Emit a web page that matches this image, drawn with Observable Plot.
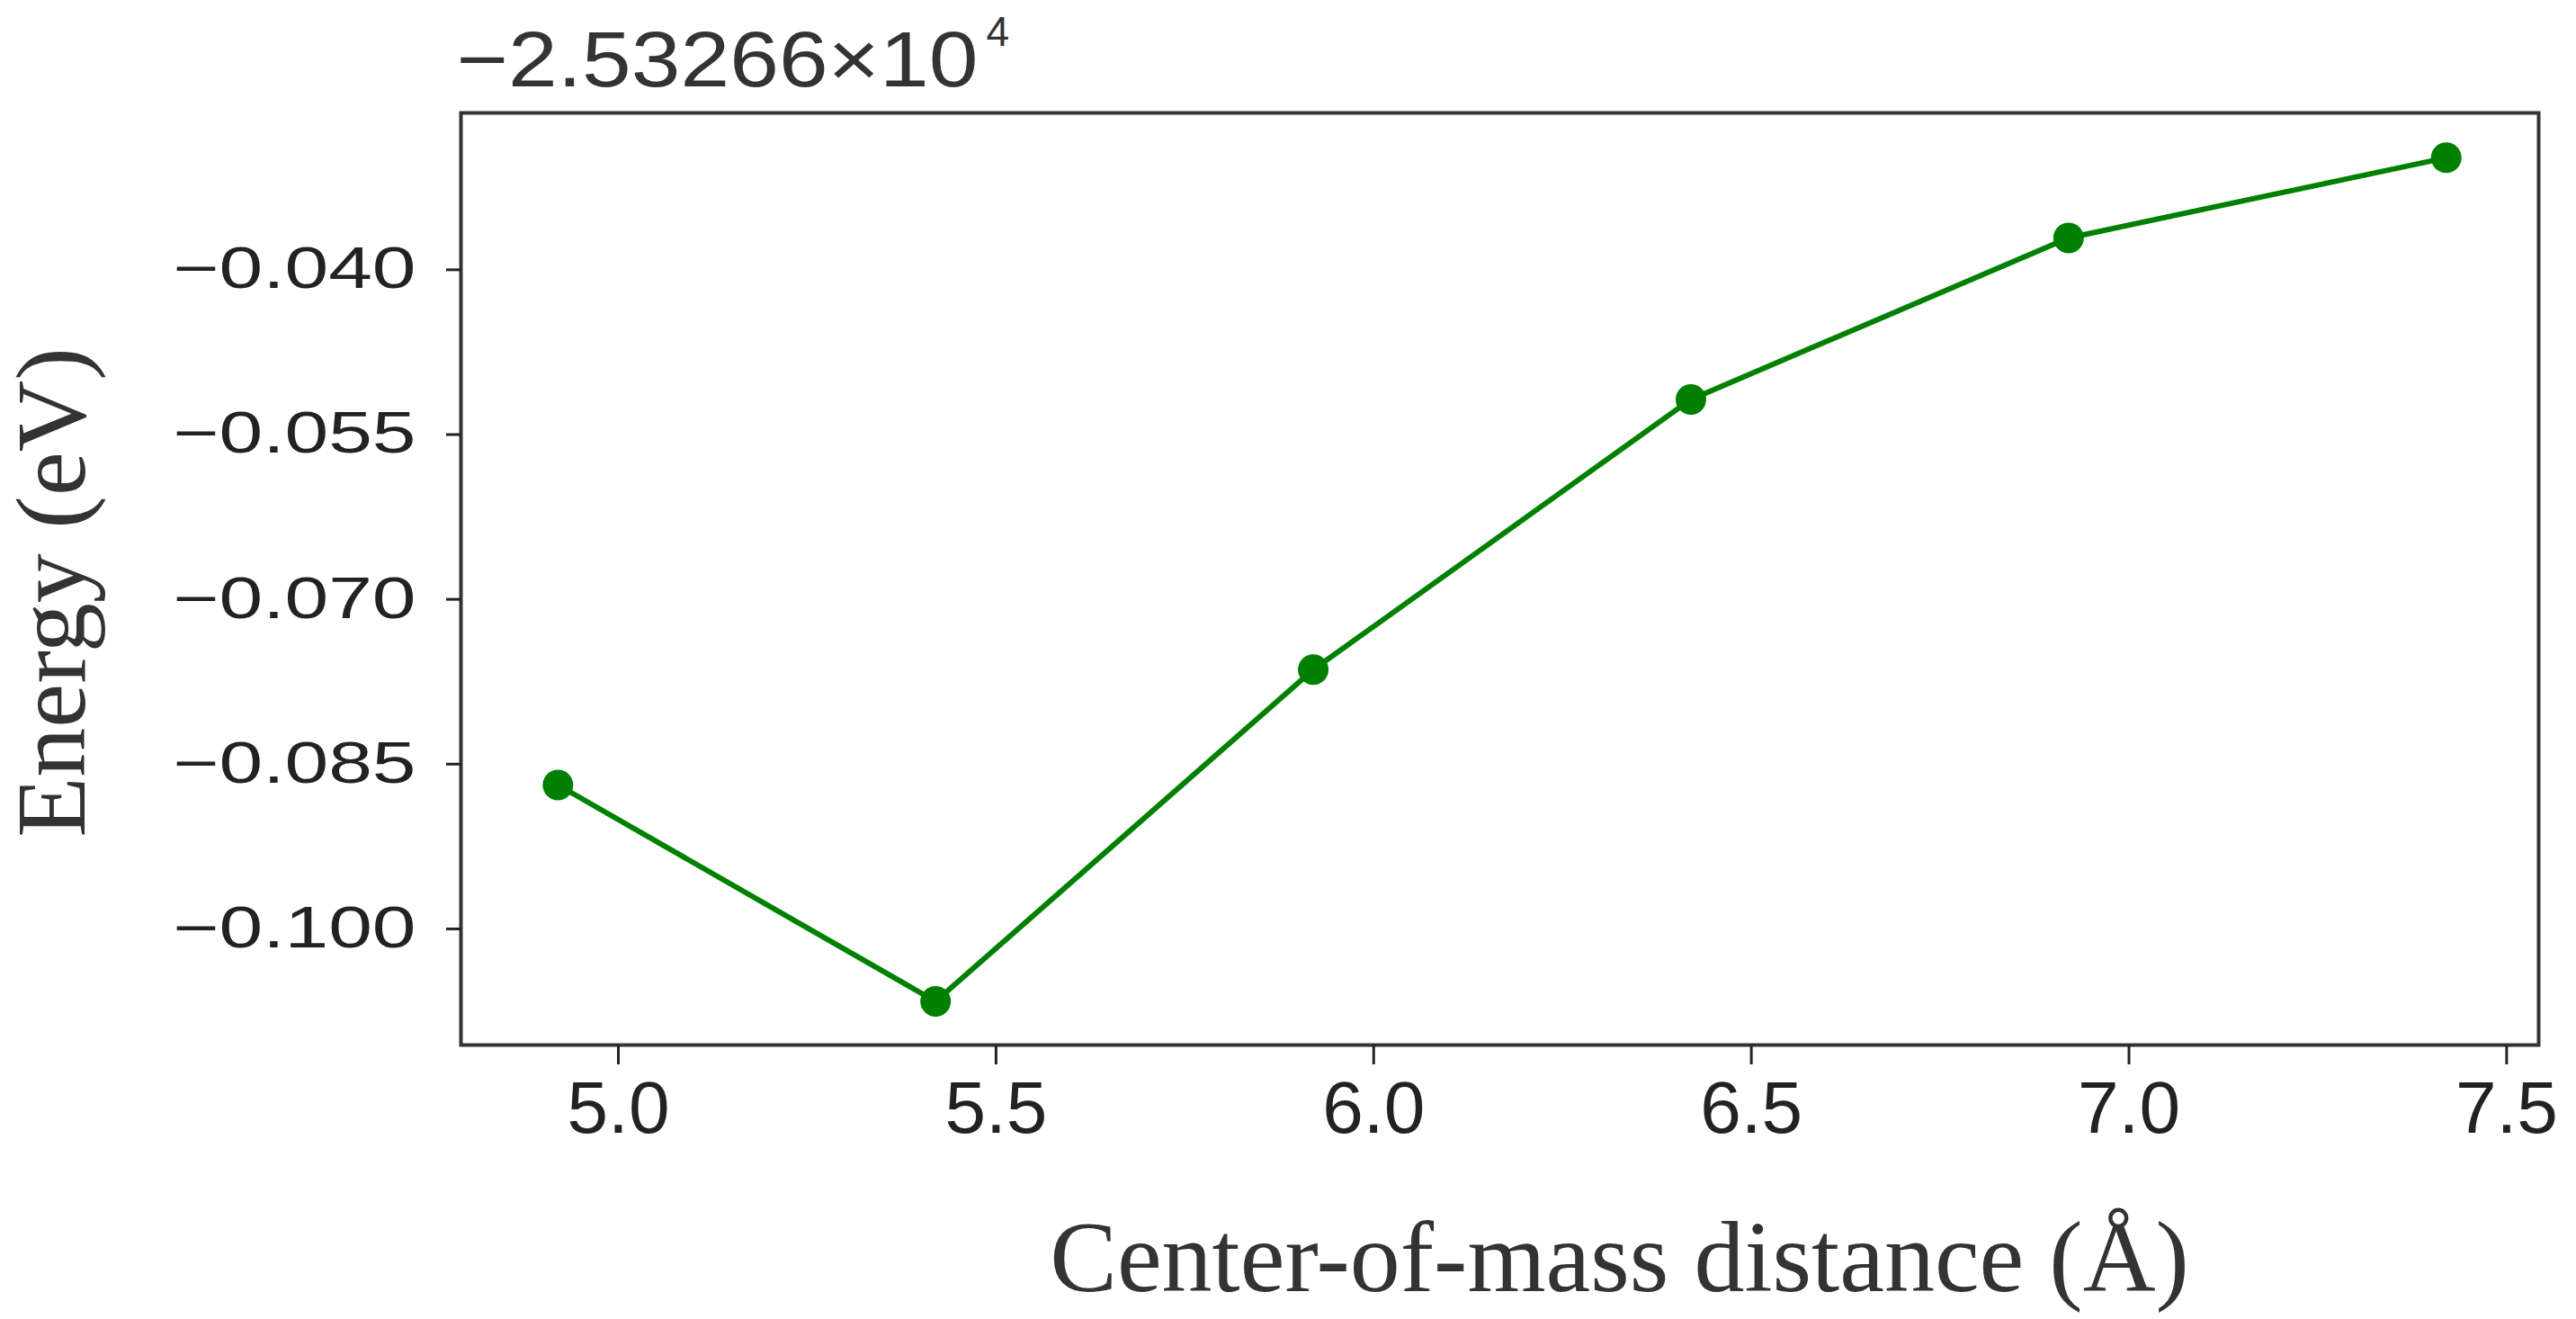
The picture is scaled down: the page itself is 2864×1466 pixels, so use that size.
<!DOCTYPE html>
<html><head><meta charset="utf-8">
<script src="https://cdn.jsdelivr.net/npm/d3@7"></script>
<script src="https://cdn.jsdelivr.net/npm/@observablehq/plot@0.6"></script>
<style>
html,body{margin:0;padding:0;background:#fff;}
</style></head><body><div id="chart"></div>
<script>
const distances = [4.92, 5.42, 5.92, 6.42, 6.92, 7.42];
const energies = [-0.0869, -0.1066, -0.0764, -0.0518, -0.0371, -0.0298];
const xTicks = [5.0, 5.5, 6.0, 6.5, 7.0, 7.5];
const xTickLabels = ["5.0", "5.5", "6.0", "6.5", "7.0", "7.5"];
const yTicks = [-0.040, -0.055, -0.070, -0.085, -0.100];
const yTickLabels = ["−0.040", "−0.055", "−0.070", "−0.085", "−0.100"];
const offsetText = ["−2.53266×10"];
const offsetExponent = ["4"];
const xLabel = ["Center-of-mass distance (Å)"];
const yLabel = ["Energy (eV)"];

const data = distances.map((d, i) => ({x: d, y: energies[i]}));
const serif = "'Liberation Serif', 'Times New Roman', serif";
const sans = "'Liberation Sans', Arial, sans-serif";

const plot = Plot.plot({
  width: 2864,
  height: 1466,
  marginLeft: 512,
  marginRight: 42,
  marginTop: 125,
  marginBottom: 305,
  style: {fontFamily: sans, background: "#fff", overflow: "visible"},
  x: {domain: [4.7916, 7.5424]},
  y: {domain: [-0.11057, -0.02572]},
  marks: [
    Plot.line(data, {x: "x", y: "y", stroke: "#008000", strokeWidth: 6}),
    Plot.dot(data, {x: "x", y: "y", r: 17, fill: "#008000", stroke: "none"}),
    Plot.frame({stroke: "#333", strokeWidth: 4}),
    Plot.axisX({
      ticks: xTicks,
      tickFormat: d => xTickLabels[xTicks.indexOf(d)],
      tickSize: 22, tickPadding: 17, fontSize: 82,
      label: null, color: "#222", strokeWidth: 3
    }),
    Plot.axisY({
      ticks: yTicks,
      tickFormat: d => yTickLabels[yTicks.indexOf(d)],
      tickSize: 16, tickPadding: 34, fontSize: 64,
      label: null, color: "#222", strokeWidth: 3
    }),
    Plot.text(yLabel, {
      text: d => d, frameAnchor: "left", textAnchor: "middle", rotate: -90, lineAnchor: "bottom",
      dx: -419, dy: 15, fontSize: 110, fontFamily: serif, fill: "#333"
    }),
    Plot.text(xLabel, {
      text: d => d, frameAnchor: "bottom", textAnchor: "middle", lineAnchor: "bottom",
      dx: 133, dy: 273, fontSize: 112, fontFamily: serif, fill: "#333"
    }),
    Plot.text(offsetText, {
      text: d => d, frameAnchor: "top-left", textAnchor: "start", lineAnchor: "bottom",
      dx: -5, dy: -30, fontSize: 88, fontFamily: sans, fill: "#333"
    }),
    Plot.text(offsetExponent, {
      text: d => d, frameAnchor: "top-left", textAnchor: "start", lineAnchor: "bottom",
      dx: 584, dy: -75, fontSize: 46, fontFamily: sans, fill: "#333"
    })
  ]
});
document.getElementById("chart").appendChild(plot);

// stretch glyphs to match the reference label widths
d3.select(plot).selectAll('g[aria-label="y-axis tick label"] text')
  .attr("textLength", 270).attr("lengthAdjust", "spacingAndGlyphs");
d3.select(plot).selectAll("text")
  .filter(function() { return this.textContent === offsetText[0]; })
  .attr("textLength", 580).attr("lengthAdjust", "spacingAndGlyphs");
</script>
</body></html>
